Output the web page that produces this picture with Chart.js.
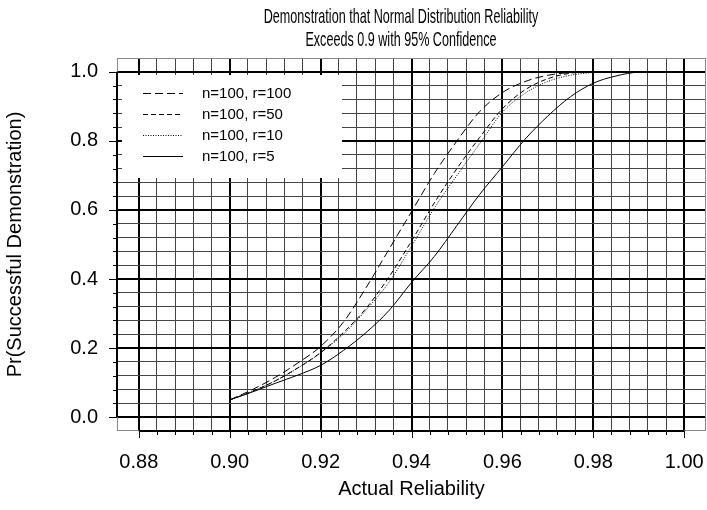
<!DOCTYPE html>
<html>
<head>
<meta charset="utf-8">
<script src="https://cdn.jsdelivr.net/npm/chart.js@4/dist/chart.umd.min.js"></script>
<style>
  html, body { margin: 0; padding: 0; background: #fff; }
  #wrap { width: 707px; height: 510px; }
</style>
</head>
<body>
<div id="wrap"><canvas id="c" width="707" height="510"></canvas></div>
<script>
// Actual reliability of the population (x) and probability of a successful demonstration (y)
const reliability = [0.900, 0.905, 0.910, 0.915, 0.920, 0.925, 0.930, 0.935, 0.940, 0.945,
                     0.950, 0.955, 0.960, 0.965, 0.970, 0.975, 0.980, 0.985, 0.990, 0.995];
const prR100 = [0.050, 0.080, 0.115, 0.157, 0.205, 0.275, 0.375, 0.485, 0.595, 0.705,
                0.800, 0.885, 0.940, 0.972, 0.990, 0.998, 1.000, 1.000, 1.000, 1.000];
const prR50  = [0.050, 0.075, 0.105, 0.143, 0.187, 0.245, 0.315, 0.405, 0.510, 0.620,
                0.720, 0.810, 0.893, 0.948, 0.980, 0.996, 1.000, 1.000, 1.000, 1.000];
const prR10  = [0.050, 0.075, 0.105, 0.142, 0.186, 0.240, 0.310, 0.390, 0.495, 0.605,
                0.700, 0.792, 0.883, 0.938, 0.972, 0.990, 0.998, 1.000, 1.000, 1.000];
const prR5   = [0.050, 0.073, 0.098, 0.122, 0.150, 0.193, 0.245, 0.308, 0.390, 0.465,
                0.555, 0.645, 0.725, 0.805, 0.872, 0.928, 0.967, 0.988, 0.999, 1.000];

const seriesLabels = ['n=100, r=100', 'n=100, r=50', 'n=100, r=10', 'n=100, r=5'];
const xTickLabels = ['0.88', '0.90', '0.92', '0.94', '0.96', '0.98', '1.00'];
const yTickLabels = ['0.0', '0.2', '0.4', '0.6', '0.8', '1.0'];
const titleLines = ['Demonstration that Normal Distribution Reliability',
                    'Exceeds 0.9 with 95% Confidence'];
const xAxisTitle = 'Actual Reliability';
const yAxisTitle = 'Pr(Successful Demonstration)';

const FONT = "'Liberation Sans', Arial, Helvetica, sans-serif";

// fine grid: five divisions between labelled ticks
const xTicks = [];
for (let i = 0; i <= 30; i++) xTicks.push(+(0.88 + 0.004 * i).toFixed(3));
const yTicks = [];
for (let i = 0; i <= 25; i++) yTicks.push(+(0.04 * i).toFixed(2));

const isMajorX = v => xTickLabels.includes(v.toFixed(2)) && Math.abs(v * 50 - Math.round(v * 50)) < 1e-6;
const isMajorY = v => yTickLabels.includes(v.toFixed(1)) && Math.abs(v * 5 - Math.round(v * 5)) < 1e-6;

const toPoints = ys => reliability.map((x, i) => ({ x, y: ys[i] }));

const styles = [
  { data: prR100, dash: [8, 4] },
  { data: prR50,  dash: [5, 3] },
  { data: prR10,  dash: [1, 1.5] },
  { data: prR5,   dash: [] }
];

const datasets = styles.map((s, i) => ({
  label: seriesLabels[i],
  data: toPoints(s.data),
  borderColor: '#000',
  borderWidth: 1,
  borderDash: s.dash,
  pointRadius: 0,
  fill: false,
  cubicInterpolationMode: 'monotone'
}));

// frame, axis lines, tick marks, legend panel and the two-line heading
const decorations = {
  id: 'decorations',
  beforeDatasetsDraw(chart) {
    const { ctx, chartArea: a, scales: { x, y } } = chart;
    ctx.save();

    // outer frame of the plotting region
    ctx.strokeStyle = '#888';
    ctx.lineWidth = 1;
    ctx.strokeRect(a.left + 0.5, a.top + 0.5, a.right - a.left - 1, a.bottom - a.top - 1);

    // axis lines spanning the labelled range only
    ctx.strokeStyle = '#000';
    ctx.lineWidth = 2;
    ctx.beginPath();
    ctx.moveTo(x.getPixelForValue(0.88), a.bottom);
    ctx.lineTo(x.getPixelForValue(1.00), a.bottom);
    ctx.moveTo(a.left, y.getPixelForValue(0));
    ctx.lineTo(a.left, y.getPixelForValue(1));
    ctx.stroke();

    // tick marks
    ctx.lineWidth = 1;
    ctx.beginPath();
    xTicks.forEach(v => {
      const px = Math.round(x.getPixelForValue(v)) + 0.5;
      ctx.moveTo(px, a.bottom);
      ctx.lineTo(px, a.bottom + (isMajorX(v) ? 7 : 4));
    });
    yTicks.forEach(v => {
      const py = Math.round(y.getPixelForValue(v)) + 0.5;
      ctx.moveTo(a.left, py);
      ctx.lineTo(a.left - (isMajorY(v) ? 8 : 4), py);
    });
    ctx.stroke();

    // legend panel
    const lx = a.left + 5, ly = a.top + 17, lw = 220, lh = 103;
    ctx.fillStyle = '#fff';
    ctx.fillRect(lx, ly, lw, lh);
    ctx.font = '15px ' + FONT;
    ctx.textBaseline = 'middle';
    ctx.textAlign = 'left';
    chart.data.datasets.forEach((ds, i) => {
      const rowY = Math.round(a.top + 35 + 21 * i) + 0.5;
      ctx.strokeStyle = ds.borderColor;
      ctx.lineWidth = ds.borderWidth;
      ctx.setLineDash(ds.borderDash);
      ctx.beginPath();
      ctx.moveTo(a.left + 26, rowY);
      ctx.lineTo(a.left + 66, rowY);
      ctx.stroke();
      ctx.setLineDash([]);
      ctx.fillStyle = '#000';
      ctx.fillText(ds.label, a.left + 85, rowY);
    });
    ctx.restore();
  },
  afterDraw(chart) {
    const { ctx } = chart;
    ctx.save();
    ctx.fillStyle = '#000';
    ctx.font = '21px ' + FONT;
    ctx.textAlign = 'center';
    ctx.textBaseline = 'middle';
    // narrow lettering for the heading
    const squeeze = 0.6;
    titleLines.forEach((t, i) => {
      ctx.save();
      ctx.translate(401, 17 + 23 * i);
      ctx.scale(squeeze, 1);
      ctx.fillText(t, 0, 0);
      ctx.restore();
    });
    ctx.restore();
  }
};

new Chart(document.getElementById('c'), {
  type: 'line',
  data: { datasets },
  plugins: [decorations],
  options: {
    responsive: false,
    animation: false,
    layout: { padding: { left: 0, right: 1, top: 58, bottom: 0 } },
    plugins: {
      legend: { display: false },
      title: { display: false },
      tooltip: { enabled: false }
    },
    scales: {
      x: {
        type: 'linear',
        min: 0.8752,
        max: 1.0048,
        afterBuildTicks: s => { s.ticks = xTicks.map(v => ({ value: v })); },
        afterFit: s => { s.height = 79; s.paddingLeft = 0; s.paddingRight = 0; },
        border: { display: false },
        grid: {
          drawTicks: false,
          color: c => isMajorX(c.tick.value) ? '#000' : '#444',
          lineWidth: c => isMajorX(c.tick.value) ? 2 : 1
        },
        ticks: {
          autoSkip: false,
          maxRotation: 0,
          padding: 19,
          color: '#000',
          font: { family: FONT, size: 20 },
          callback: v => isMajorX(v) ? v.toFixed(2) : ''
        },
        title: {
          display: true,
          text: xAxisTitle,
          color: '#000',
          font: { family: FONT, size: 20 },
          padding: { top: 0, bottom: 9 }
        }
      },
      y: {
        type: 'linear',
        min: -0.04,
        max: 1.04,
        afterBuildTicks: s => { s.ticks = yTicks.map(v => ({ value: v })); },
        afterFit: s => { s.width = 117; s.paddingTop = 0; s.paddingBottom = 0; },
        border: { display: false },
        grid: {
          drawTicks: false,
          color: c => isMajorY(c.tick.value) ? '#000' : '#444',
          lineWidth: c => isMajorY(c.tick.value) ? 2 : 1
        },
        ticks: {
          autoSkip: false,
          padding: 19,
          color: '#000',
          font: { family: FONT, size: 20 },
          callback: v => isMajorY(v) ? v.toFixed(1) : ''
        },
        title: {
          display: true,
          text: yAxisTitle,
          color: '#000',
          font: { family: FONT, size: 20 },
          padding: { top: 3, bottom: 0 }
        }
      }
    }
  }
});
</script>
</body>
</html>
